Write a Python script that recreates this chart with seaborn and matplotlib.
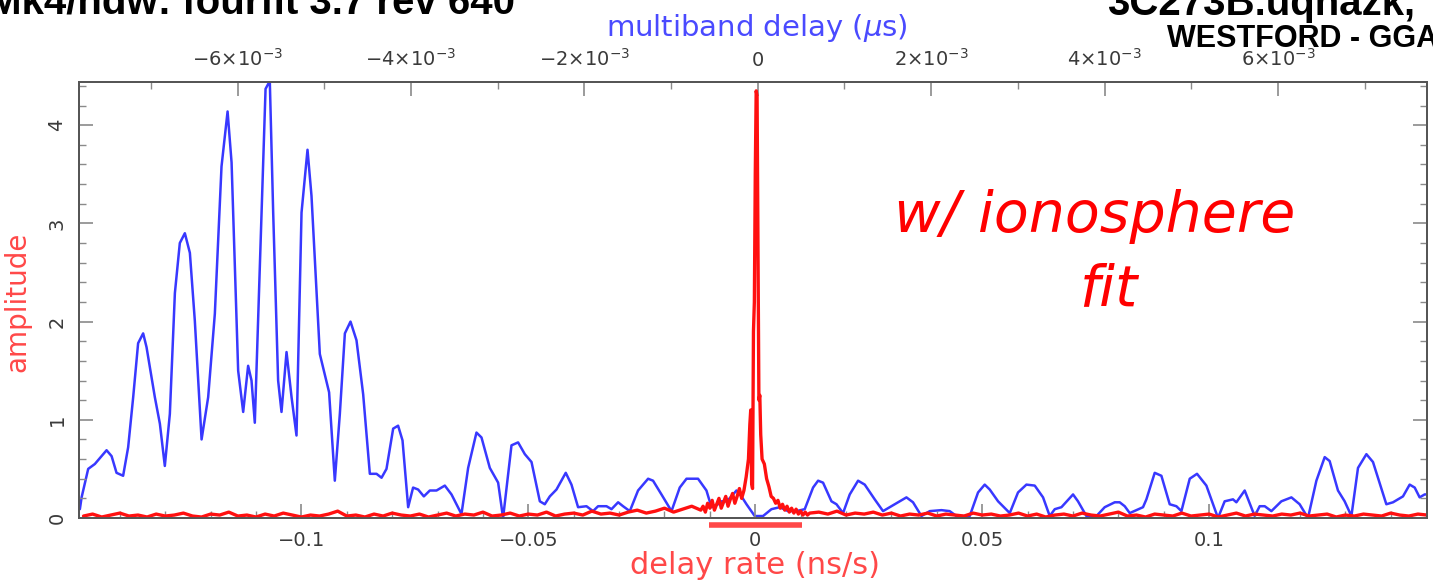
import numpy as np
import pandas as pd
import matplotlib
matplotlib.use("Agg")
import matplotlib.pyplot as plt
import matplotlib.ticker as mticker
import matplotlib.transforms as mtransforms
import seaborn as sns

# ---------------- data ----------------
# blue: multiband delay spectrum (delay in ns = 1e-3 us, amplitude)
blue_delay_ns = [
    -7.820, -7.800, -7.724, -7.647, -7.512, -7.454, -7.397, -7.321, -7.263, -7.205,
    -7.148, -7.090, -7.051, -6.955, -6.897, -6.840, -6.782, -6.724, -6.667, -6.609,
    -6.551, -6.494, -6.416, -6.340, -6.263, -6.186, -6.116, -6.070, -5.994, -5.936,
    -5.879, -5.840, -5.802, -5.724, -5.678, -5.629, -5.590, -5.533, -5.494, -5.436,
    -5.378, -5.321, -5.263, -5.194, -5.148, -5.052, -4.945, -4.879, -4.821, -4.763,
    -4.698, -4.629, -4.552, -4.475, -4.398, -4.340, -4.283, -4.206, -4.149, -4.098,
    -4.033, -3.976, -3.918, -3.852, -3.783, -3.706, -3.610, -3.533, -3.418, -3.341,
    -3.245, -3.187, -3.091, -2.995, -2.938, -2.841, -2.765, -2.687, -2.610, -2.514,
    -2.457, -2.399, -2.322, -2.215, -2.149, -2.073, -1.976, -1.900, -1.842, -1.745,
    -1.687, -1.611, -1.554, -1.476, -1.381, -1.265, -1.208, -1.111, -0.995, -0.900,
    -0.822, -0.689, -0.592, -0.534, -0.458, -0.419, -0.361, -0.303, -0.246, -0.188,
    -0.130, -0.035, 0.061, 0.158, 0.254, 0.349, 0.446, 0.542, 0.638, 0.696,
    0.753, 0.850, 0.908, 0.984, 1.061, 1.157, 1.234, 1.349, 1.445, 1.522,
    1.618, 1.715, 1.791, 1.888, 1.984, 2.119, 2.214, 2.292, 2.445, 2.541,
    2.618, 2.676, 2.772, 2.907, 3.002, 3.099, 3.195, 3.291, 3.368, 3.426,
    3.503, 3.637, 3.694, 3.791, 3.907, 4.002, 4.118, 4.175, 4.233, 4.291,
    4.444, 4.483, 4.579, 4.656, 4.752, 4.829, 4.887, 4.983, 5.067, 5.175,
    5.309, 5.386, 5.482, 5.521, 5.617, 5.732, 5.790, 5.848, 5.925, 6.040,
    6.156, 6.251, 6.347, 6.444, 6.540, 6.597, 6.693, 6.770, 6.848, 6.924,
    7.021, 7.097, 7.251, 7.328, 7.443, 7.520, 7.578, 7.635, 7.693, 7.770,
]
blue_amp = [
    0.09, 0.21, 0.50, 0.55, 0.69, 0.63, 0.46, 0.43, 0.72, 1.23,
    1.78, 1.88, 1.74, 1.23, 0.96, 0.53, 1.06, 2.29, 2.80, 2.90,
    2.70, 2.01, 0.80, 1.23, 2.08, 3.58, 4.14, 3.62, 1.50, 1.08,
    1.55, 1.40, 0.97, 3.11, 4.37, 4.45, 3.11, 1.40, 1.08, 1.69,
    1.23, 0.84, 3.11, 3.75, 3.28, 1.67, 1.28, 0.38, 1.06, 1.88,
    2.00, 1.81, 1.26, 0.45, 0.45, 0.41, 0.50, 0.91, 0.94, 0.79,
    0.11, 0.31, 0.29, 0.22, 0.28, 0.28, 0.33, 0.24, 0.04, 0.51,
    0.87, 0.82, 0.51, 0.36, 0.00, 0.74, 0.77, 0.65, 0.57, 0.17,
    0.14, 0.22, 0.29, 0.46, 0.34, 0.11, 0.12, 0.07, 0.12, 0.12,
    0.09, 0.16, 0.12, 0.07, 0.28, 0.40, 0.38, 0.24, 0.07, 0.31,
    0.40, 0.40, 0.28, 0.11, 0.14, 0.17, 0.17, 0.22, 0.28, 0.22,
    0.14, 0.02, 0.02, 0.09, 0.11, 0.07, 0.07, 0.09, 0.31, 0.38,
    0.36, 0.17, 0.14, 0.05, 0.24, 0.38, 0.34, 0.19, 0.07, 0.11,
    0.16, 0.21, 0.16, 0.02, 0.07, 0.08, 0.07, 0.02, 0.02, 0.26,
    0.34, 0.29, 0.17, 0.05, 0.26, 0.34, 0.33, 0.21, 0.02, 0.09,
    0.11, 0.24, 0.17, 0.02, 0.02, 0.11, 0.16, 0.16, 0.12, 0.05,
    0.11, 0.19, 0.46, 0.43, 0.14, 0.12, 0.07, 0.40, 0.45, 0.33,
    0.00, 0.17, 0.19, 0.16, 0.28, 0.02, 0.12, 0.12, 0.07, 0.17,
    0.21, 0.14, 0.00, 0.38, 0.62, 0.58, 0.28, 0.17, 0.02, 0.51,
    0.65, 0.57, 0.14, 0.16, 0.22, 0.34, 0.31, 0.21, 0.24, 0.24,
]

# red: delay-rate spectrum (ns/s, amplitude)
noise_left_amp = [
    0.02, 0.04, 0.01, 0.03, 0.05, 0.02, 0.03, 0.01, 0.04, 0.02,
    0.03, 0.05, 0.02, 0.01, 0.04, 0.03, 0.06, 0.02, 0.03, 0.01,
    0.04, 0.02, 0.05, 0.03, 0.01, 0.03, 0.02, 0.04, 0.07, 0.02,
    0.03, 0.01, 0.04, 0.02, 0.05, 0.03, 0.02, 0.04, 0.01, 0.03,
    0.05, 0.02, 0.04, 0.03, 0.06, 0.02, 0.03, 0.05, 0.02, 0.04,
    0.03, 0.06, 0.02, 0.04, 0.05, 0.03, 0.07, 0.04, 0.05, 0.03,
    0.06, 0.08, 0.05, 0.07, 0.10, 0.06, 0.09, 0.12,
]
noise_right_amp = [
    0.06, 0.04, 0.07, 0.03, 0.05, 0.04, 0.06, 0.03, 0.05, 0.02,
    0.04, 0.03, 0.05, 0.02, 0.04, 0.03, 0.02, 0.05, 0.03, 0.04,
    0.02, 0.03, 0.05, 0.02, 0.04, 0.01, 0.03, 0.04, 0.02, 0.05,
    0.03, 0.02, 0.04, 0.06, 0.02, 0.03, 0.01, 0.04, 0.03, 0.02,
    0.05, 0.02, 0.03, 0.04, 0.01, 0.03, 0.05, 0.02, 0.04, 0.03,
    0.02, 0.04, 0.03, 0.05, 0.02, 0.03, 0.04, 0.01, 0.03, 0.02,
    0.04, 0.03, 0.02, 0.05, 0.03, 0.02, 0.04, 0.03,
]
noise_left_rate = np.linspace(-0.148, -0.014, len(noise_left_amp))
noise_right_rate = np.linspace(0.014, 0.148, len(noise_right_amp))

peak_rate = [
    -0.012, -0.0115, -0.011, -0.0105, -0.010, -0.0095, -0.009, -0.0085, -0.008, -0.0075,
    -0.007, -0.0065, -0.006, -0.0055, -0.005, -0.0045, -0.004, -0.0035, -0.003, -0.0025,
    -0.002, -0.0015, -0.0012, -0.0010, -0.0008, -0.0006, -0.0004, -0.0002, 0.0, 0.0002,
    0.0004, 0.0006, 0.0008, 0.0010, 0.0012, 0.0015, 0.002, 0.0025, 0.003, 0.0035,
    0.004, 0.0045, 0.005, 0.0055, 0.006, 0.0065, 0.007, 0.0075, 0.008, 0.0085,
    0.009, 0.0095, 0.010, 0.0105, 0.011, 0.0115, 0.012,
]
peak_amp = [
    0.08, 0.12, 0.06, 0.15, 0.10, 0.18, 0.08, 0.14, 0.20, 0.10,
    0.16, 0.22, 0.12, 0.19, 0.25, 0.15, 0.22, 0.30, 0.20, 0.28,
    0.42, 0.60, 0.95, 1.10, 0.35, 0.30, 1.90, 2.20, 3.50, 4.35,
    4.30, 2.80, 1.20, 1.25, 0.85, 0.60, 0.55, 0.40, 0.32, 0.22,
    0.20, 0.15, 0.18, 0.10, 0.14, 0.08, 0.12, 0.06, 0.10, 0.05,
    0.09, 0.04, 0.07, 0.03, 0.06, 0.03, 0.05,
]

# delay-rate search window (ns/s)
window_rate = [-0.0102, 0.0104]

rate_ticks = [-0.1, -0.05, 0, 0.05, 0.1]
rate_tick_labels = ["\u22120.1", "\u22120.05", "0", "0.05", "0.1"]
delay_ticks_us = [-6e-3, -4e-3, -2e-3, 0, 2e-3, 4e-3, 6e-3]
amp_ticks = [0, 1, 2, 3, 4]

# ---------------- figure ----------------
sns.set_theme(style="white")
plt.rcParams['font.family'] = ['DejaVu Sans']
plt.rcParams['mathtext.fontset'] = 'dejavusans'

W, H = 1433, 583
fig = plt.figure(figsize=(W / 100, H / 100), dpi=100)
fig.patch.set_facecolor("white")
ax_l, ax_r, ax_t, ax_b = 79, 1427, 82, 518
ax = fig.add_axes([ax_l / W, (H - ax_b) / H, (ax_r - ax_l) / W, (ax_b - ax_t) / H])
ax2 = ax.twiny()

blue_df = pd.DataFrame({"delay_us": np.array(blue_delay_ns) / 1000.0, "amp": blue_amp})
red_df = pd.DataFrame({
    "rate": np.concatenate([noise_left_rate, peak_rate, noise_right_rate]),
    "amp": np.concatenate([noise_left_amp, peak_amp, noise_right_amp]),
}).sort_values("rate")

sns.lineplot(data=blue_df, x="delay_us", y="amp", ax=ax2, color="#3838ff",
             linewidth=1.8, estimator=None, sort=False)
sns.lineplot(data=red_df, x="rate", y="amp", ax=ax, color="#ff1010",
             linewidth=2.4, estimator=None, sort=False)

ax.set_zorder(ax2.get_zorder() + 1)
ax.patch.set_visible(False)

ax.set_xlim(-0.149, 0.148)
ax2.set_xlim(-7.83e-3, 7.72e-3)
ax.set_ylim(0, 4.44)

tick_gray = "#8a8a8a"
label_gray = "#3a3a3a"

ax.xaxis.set_major_locator(mticker.FixedLocator(rate_ticks))
ax.set_xticklabels(rate_tick_labels)
ax.xaxis.set_minor_locator(mticker.MultipleLocator(0.01))
ax.yaxis.set_major_locator(mticker.FixedLocator(amp_ticks))
ax.yaxis.set_minor_locator(mticker.MultipleLocator(0.2))

def delay_fmt(v, pos):
    n = int(round(v * 1e3))
    return "0" if n == 0 else r"$%d{\times}10^{-3}$" % n

ax2.xaxis.set_major_locator(mticker.FixedLocator(delay_ticks_us))
ax2.xaxis.set_major_formatter(mticker.FuncFormatter(delay_fmt))
ax2.xaxis.set_minor_locator(mticker.MultipleLocator(1e-3))

ax.tick_params(axis="x", which="both", direction="in", bottom=True, top=False,
               colors=tick_gray, labelcolor=label_gray, labelsize=14, pad=9)
ax.tick_params(axis="x", which="major", length=10, width=1.2)
ax.tick_params(axis="x", which="minor", length=5, width=1.0)
ax.tick_params(axis="y", which="both", direction="in", left=True, right=True,
               colors=tick_gray, labelcolor=label_gray, labelsize=14, pad=9,
               labelrotation=90)
ax.tick_params(axis="y", which="major", length=10, width=1.2)
ax.tick_params(axis="y", which="minor", length=5, width=1.0)
for lbl in ax.get_yticklabels():
    lbl.set_va("center")
ax2.tick_params(axis="x", which="both", direction="in", top=True, bottom=False,
                colors=tick_gray, labelcolor=label_gray, labelsize=14, pad=9)
ax2.tick_params(axis="x", which="major", length=10, width=1.2)
ax2.tick_params(axis="x", which="minor", length=5, width=1.0)

for a in (ax, ax2):
    for s in a.spines.values():
        s.set_color("#555555")
        s.set_linewidth(1.3)

ax.set_xlabel("delay rate (ns/s)", color="#ff4848", fontsize=22, va="center")
ax.xaxis.set_label_coords(0.5015, (ax_b - 566) / (ax_b - ax_t))
ax.set_ylabel("amplitude", color="#ff4848", fontsize=20, va="center")
ax.yaxis.set_label_coords((17 - ax_l) / (ax_r - ax_l), (ax_b - 302) / (ax_b - ax_t))
ax2.set_xlabel("multiband delay ($\\mu$s)", color="#4a4aff", fontsize=21, va="center")
ax2.xaxis.set_label_coords(0.503, (ax_b - 28) / (ax_b - ax_t))

# delay-rate search window marker just below the axis
blend = mtransforms.blended_transform_factory(ax.transData, ax.transAxes)
ax.plot(window_rate, [-0.015, -0.015], transform=blend, clip_on=False,
        color="#ff4848", linewidth=4, solid_capstyle="butt")

# annotation
ax.text((1095 - ax_l) / (ax_r - ax_l), (ax_b - 232) / (ax_b - ax_t), "w/ ionosphere",
        transform=ax.transAxes, ha="center", va="baseline", color="#ff0000",
        fontsize=41, fontstyle="italic")
ax.text((1108 - ax_l) / (ax_r - ax_l), (ax_b - 305) / (ax_b - ax_t), "fit",
        transform=ax.transAxes, ha="center", va="baseline", color="#ff0000",
        fontsize=41, fontstyle="italic")

# header texts (partially cut by the image edge, as in the source)
fig.text(-12 / W, 1 - 14 / H, "Mk4/hdw: fourfit 3.7 rev 640", fontsize=29,
         fontweight="bold", family="Liberation Sans", va="baseline", ha="left", color="black")
fig.text(1107 / W, 1 - 15 / H, "3C273B.uqhazk,", fontsize=29,
         fontweight="bold", family="Liberation Sans", va="baseline", ha="left", color="black")
fig.text(1167 / W, 1 - 47 / H, "WESTFORD - GGAO", fontsize=22,
         fontweight="bold", family="Liberation Sans", va="baseline", ha="left", color="black")

fig.savefig("out.png", dpi=100)
